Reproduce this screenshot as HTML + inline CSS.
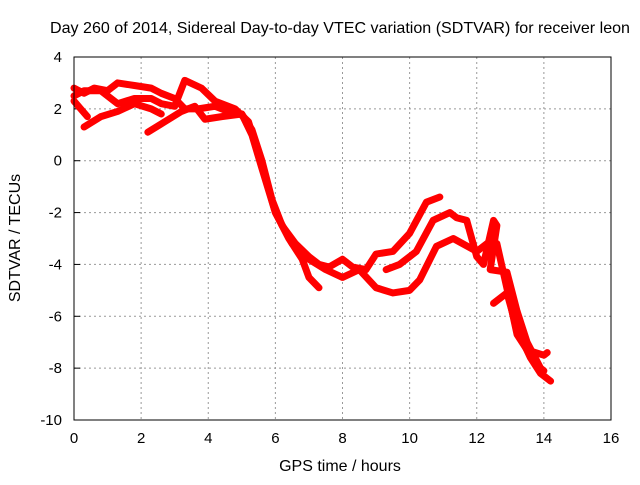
<!DOCTYPE html>
<html><head><meta charset="utf-8"><style>
body{margin:0;background:#fff}
svg text{font-family:"Liberation Sans",sans-serif;font-size:15px;fill:#000}
svg text.big{font-size:16px}
</style></head><body>
<svg id="chart" width="640" height="480">
<rect width="640" height="480" fill="#fff"/>
<text class="big" x="340" y="33" text-anchor="middle" textLength="580" lengthAdjust="spacingAndGlyphs">Day 260 of 2014, Sidereal Day-to-day VTEC variation (SDTVAR) for receiver leon</text>
<text class="big" x="340" y="471" text-anchor="middle">GPS time / hours</text>
<text class="big" transform="translate(20,238) rotate(-90)" text-anchor="middle">SDTVAR / TECUs</text>
<g id="grid"></g><g id="data"></g>
<rect x="74" y="57" width="537" height="363" fill="none" stroke="#000" stroke-width="1"/>
</svg>
<script>
const xTicks=[0,2,4,6,8,10,12,14,16];
const yTicks=[-10,-8,-6,-4,-2,0,2,4];
const track1=[[0,2.8],[0.3,2.6],[0.6,2.8],[1,2.7],[1.3,3.0],[1.8,2.9],[2.3,2.8],[2.6,2.6],[3,2.4],[3.3,2.0],[3.7,2.0],[4.2,2.1],[4.6,1.9],[5.0,1.8],[5.3,1.2],[5.6,0],[5.9,-1.5],[6.2,-2.5],[6.6,-3.2],[7,-3.7],[7.3,-4.0],[7.6,-4.1],[8,-3.8],[8.3,-4.1],[8.7,-4.2],[9,-3.6],[9.5,-3.5],[10,-2.8],[10.5,-1.6],[10.9,-1.4]];
const track2=[[0,2.5],[0.3,2.7],[0.8,2.7],[1.3,2.2],[1.8,2.4],[2.3,2.4],[2.6,2.2],[3,2.1],[3.3,3.1],[3.8,2.8],[4.2,2.3],[4.8,2.0],[5.2,1.5],[5.6,-0.2],[6,-2.0],[6.5,-3.2],[7,-3.8],[7.5,-4.2],[8,-4.5],[8.5,-4.2],[9,-4.9],[9.5,-5.1],[10,-5.0],[10.3,-4.6],[10.8,-3.3],[11.3,-3.0],[12,-3.5],[12.4,-3.1],[12.6,-3.2],[13,-5.5],[13.2,-6.7],[13.5,-7.3],[14,-7.5],[14.1,-7.4]];
const track3=[[0,2.3],[0.2,2.0],[0.4,1.7]];
const track4=[[0.3,1.3],[0.8,1.7],[1.3,1.9],[1.8,2.2],[2.3,2.0],[2.6,1.8]];
const track5=[[2.2,1.1],[2.7,1.5],[3.2,1.9],[3.6,2.1],[3.9,1.6],[4.4,1.7],[5,1.8],[5.3,1.0],[5.6,-0.3],[6,-2],[6.4,-3],[6.8,-3.8],[7.0,-4.5],[7.3,-4.9]];
const track6=[[9.3,-4.2],[9.7,-4.0],[10.2,-3.5],[10.7,-2.3],[11.2,-2.0],[11.4,-2.2],[11.7,-2.3],[12,-3.7],[12.2,-4.0],[12.5,-2.3],[12.6,-2.5],[12.4,-4.2],[12.9,-4.3],[13.2,-5.8],[13.5,-7.0],[13.9,-8.0],[14.0,-8.1]];
const track7=[[12.5,-5.5],[12.9,-5.1],[13.2,-6.5],[13.6,-7.6],[13.9,-8.2],[14.2,-8.5]];
const tracks=[track1,track2,track3,track4,track5,track6,track7];
const NS='http://www.w3.org/2000/svg';
const X=h=>74+h*(537/16);
const Y=v=>57+(4-v)*(363/14);
const grid=document.getElementById('grid'),data=document.getElementById('data'),svg=document.getElementById('chart');
function mk(tag,attrs,parent){const e=document.createElementNS(NS,tag);for(const k in attrs)e.setAttribute(k,attrs[k]);parent.appendChild(e);return e;}
xTicks.forEach(t=>{
 const x=X(t);
 if(t>0&&t<16){const g=mk('line',{x1:x,x2:x,y1:57,y2:420,stroke:'#999','stroke-dasharray':'2,3'},grid);
 
 }
 const tl=mk('text',{x:x,y:443,'text-anchor':'middle'},svg);tl.textContent=t;
 
 
});
yTicks.forEach(t=>{
 const y=Y(t);
 if(t>-10&&t<4){const g=mk('line',{x1:74,x2:611,y1:y,y2:y,stroke:'#999','stroke-dasharray':'2,3'},grid);
 
 }
 mk('line',{x1:74,x2:80,y1:y,y2:y,stroke:'#000'},grid);
 const tl=mk('text',{x:62,y:y+5,'text-anchor':'end'},svg);tl.textContent=t;
 
 
});
tracks.forEach((tr,i)=>{
 const p=mk('polyline',{points:tr.map(d=>X(d[0])+','+Y(d[1])).join(' '),fill:'none',stroke:'#f00','stroke-width':7,'stroke-linejoin':'round','stroke-linecap':'round'},data);
 
 
});
</script>
</body></html>
